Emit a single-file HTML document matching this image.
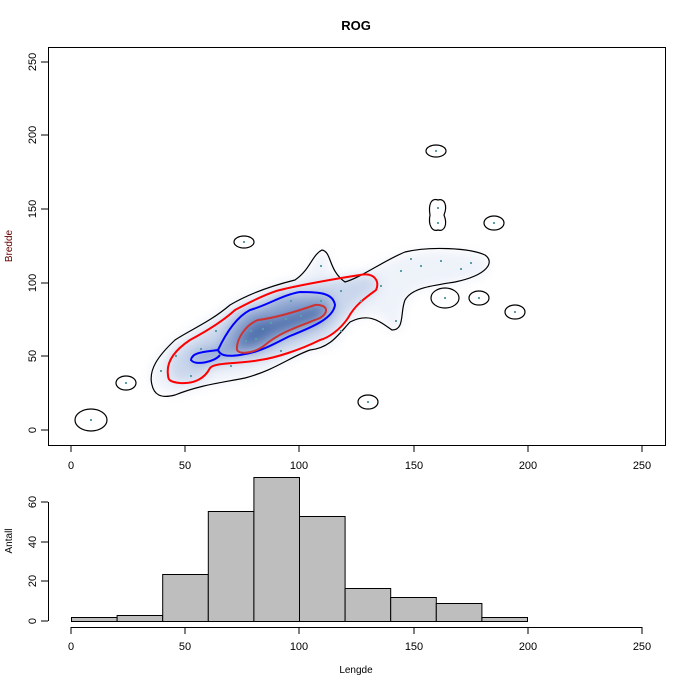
<!DOCTYPE html><html><head><style>body{margin:0;background:#fff}svg{display:block;font-family:"Liberation Sans",Arial,sans-serif}</style></head><body>
<svg width="689" height="688" viewBox="0 0 689 688">
<defs><filter id="b" x="-20%" y="-20%" width="140%" height="140%"><feGaussianBlur stdDeviation="6"/></filter></defs>
<text x="356" y="30" font-size="13" font-weight="bold" text-anchor="middle">ROG</text>
<g filter="url(#b)">
<path d="M152,385 L150,370 L160,355 L175,340 L200,325 L215,315 L230,305 L260,290 L275,285 L295,280 L310,268 L315,255 L325,250 L330,260 L330,275 L345,282 L370,270 L400,255 L440,250 L480,255 L490,262 L485,275 L455,282 L415,290 L405,300 L400,330 L390,330 L380,315 L365,315 L345,325 L335,345 L310,350 L290,358 L270,370 L245,378 L205,385 L175,395 Z" fill="#eef2f9"/>
<path d="M168,375 L170,355 L190,340 L215,325 L235,310 L260,300 L280,290 L305,285 L360,275 L375,275 L378,290 L355,305 L335,330 L320,340 L290,352 L260,360 L210,368 L200,380 L180,383 Z" fill="#c9d6ec"/>
<path d="M190,355 L220,345 L230,325 L245,310 L265,305 L285,295 L330,295 L335,310 L320,325 L280,340 L260,352 L225,358 L195,365 Z" fill="#8ea6d2"/>
<path d="M237,350 L240,335 L255,320 L275,318 L300,310 L320,305 L327,312 L318,320 L295,328 L275,335 L260,345 Z" fill="#4f71ad"/>
</g>
<g fill="none" stroke="#000" stroke-width="1.2">
<path d="M152,385 C148,370 158,356 175,340 C190,330 210,322 230,305 C250,293 275,285 295,280 C310,270 312,255 322,250 C332,252 328,270 345,282 C360,278 385,260 405,252 C430,246 470,248 485,255 C495,262 488,275 455,282 C430,286 412,288 405,300 C400,312 405,330 392,330 C380,322 370,312 350,322 C338,335 330,348 310,350 C290,357 275,370 245,378 C220,383 200,385 175,395 C160,399 154,394 152,385 Z"/>
<ellipse cx="91" cy="420" rx="16" ry="11"/><ellipse cx="126" cy="383" rx="10" ry="7"/><ellipse cx="244" cy="242" rx="10" ry="6"/>
<ellipse cx="436" cy="151" rx="10" ry="6"/><ellipse cx="368" cy="402" rx="10" ry="7"/><ellipse cx="494" cy="223" rx="10" ry="7"/>
<ellipse cx="515" cy="312" rx="10" ry="7"/><ellipse cx="479" cy="298" rx="10" ry="7"/><ellipse cx="445" cy="298" rx="14" ry="10"/>
<path d="M430,215 C428,203 432,198 438,200 C444,198 448,205 444,215 C448,225 444,232 438,230 C432,232 428,225 430,215 Z"/>
</g>
<path d="M168,375 C166,362 175,350 190,340 C205,332 222,322 235,310 C250,302 268,293 280,290 C300,285 340,278 360,275 C375,272 380,282 376,290 C365,298 355,305 348,318 C340,330 328,338 320,340 C300,350 275,358 260,360 C240,364 215,362 210,368 C205,378 195,384 180,383 C170,382 168,380 168,375 Z" fill="none" stroke="#f00" stroke-width="2"/>
<path d="M218,350 C225,335 235,318 250,310 C268,305 282,295 300,292 C320,292 333,293 335,305 C333,318 315,326 290,336 C275,343 262,352 240,355 C225,357 220,355 218,350 Z M218,350 C205,352 192,352 191,360 C195,366 215,362 220,355" fill="none" stroke="#00f" stroke-width="2"/>
<path d="M237,350 C236,340 245,325 258,320 C275,318 295,312 315,305 C327,304 330,312 320,318 C300,326 280,332 265,345 C255,353 240,355 237,350 Z" fill="none" stroke="#c33" stroke-width="2"/>
<g fill="#5aa0a8">
<rect x="90" y="419" width="2" height="2"/><rect x="125" y="382" width="2" height="2"/><rect x="243" y="241" width="2" height="2"/><rect x="435" y="150" width="2" height="2"/><rect x="367" y="401" width="2" height="2"/><rect x="493" y="222" width="2" height="2"/><rect x="514" y="311" width="2" height="2"/><rect x="478" y="297" width="2" height="2"/><rect x="444" y="297" width="2" height="2"/><rect x="437" y="207" width="2" height="2"/><rect x="437" y="222" width="2" height="2"/>
<rect x="160" y="370" width="2" height="2"/><rect x="175" y="355" width="2" height="2"/><rect x="200" y="348" width="2" height="2"/><rect x="215" y="330" width="2" height="2"/><rect x="250" y="330" width="2" height="2"/><rect x="255" y="338" width="2" height="2"/><rect x="245" y="340" width="2" height="2"/><rect x="262" y="328" width="2" height="2"/><rect x="270" y="322" width="2" height="2"/><rect x="285" y="318" width="2" height="2"/><rect x="300" y="315" width="2" height="2"/><rect x="310" y="308" width="2" height="2"/><rect x="290" y="300" width="2" height="2"/><rect x="320" y="300" width="2" height="2"/><rect x="340" y="290" width="2" height="2"/><rect x="360" y="300" width="2" height="2"/><rect x="380" y="285" width="2" height="2"/><rect x="400" y="270" width="2" height="2"/><rect x="420" y="265" width="2" height="2"/><rect x="440" y="260" width="2" height="2"/><rect x="460" y="268" width="2" height="2"/><rect x="470" y="262" width="2" height="2"/><rect x="410" y="258" width="2" height="2"/><rect x="395" y="320" width="2" height="2"/><rect x="340" y="330" width="2" height="2"/><rect x="280" y="350" width="2" height="2"/><rect x="230" y="365" width="2" height="2"/><rect x="190" y="375" width="2" height="2"/><rect x="320" y="265" width="2" height="2"/>
</g>
<rect x="48.5" y="47.5" width="617" height="398" fill="none" stroke="#000"/>
<g stroke="#000" fill="none"><path d="M71,445V452M185,445V452M299,445V452M414,445V452M528,445V452M642,445V452M48,430H41M48,356H41M48,283H41M48,209H41M48,135H41M48,62H41"/></g>
<g font-size="11" text-anchor="middle"><text x="71" y="469">0</text><text x="185" y="469">50</text><text x="299" y="469">100</text><text x="414" y="469">150</text><text x="528" y="469">200</text><text x="642" y="469">250</text>
<g transform="rotate(-90)"><text x="-430" y="36">0</text><text x="-356" y="36">50</text><text x="-283" y="36">100</text><text x="-209" y="36">150</text><text x="-135" y="36">200</text><text x="-62" y="36">250</text><text x="-246" y="12" font-size="10" fill="#600">Bredde</text><text x="-541" y="12" font-size="10">Antall</text><text x="-621" y="36">0</text><text x="-581" y="36">20</text><text x="-542" y="36">40</text><text x="-502" y="36">60</text></g>
<text x="71" y="650">0</text><text x="185" y="650">50</text><text x="299" y="650">100</text><text x="414" y="650">150</text><text x="528" y="650">200</text><text x="642" y="650">250</text><text x="356" y="673" font-size="10">Lengde</text></g>
<g fill="#bebebe" stroke="#000">
<rect x="71.5" y="617.5" width="45.6" height="4"/><rect x="117.1" y="615.5" width="45.6" height="6"/><rect x="162.7" y="574.5" width="45.6" height="47"/><rect x="208.3" y="511.5" width="45.6" height="110"/><rect x="253.9" y="477.5" width="45.6" height="144"/><rect x="299.5" y="516.5" width="45.6" height="105"/><rect x="345.1" y="588.5" width="45.6" height="33"/><rect x="390.7" y="597.5" width="45.6" height="24"/><rect x="436.3" y="603.5" width="45.6" height="18"/><rect x="481.9" y="617.5" width="45.6" height="4"/>
</g>
<g stroke="#000" fill="none"><path d="M48.5,621V502M48,621H41M48,581H41M48,542H41M48,502H41M71,627.5H642M71,627V634M185,627V634M299,627V634M414,627V634M528,627V634M642,627V634"/></g>
</svg></body></html>
